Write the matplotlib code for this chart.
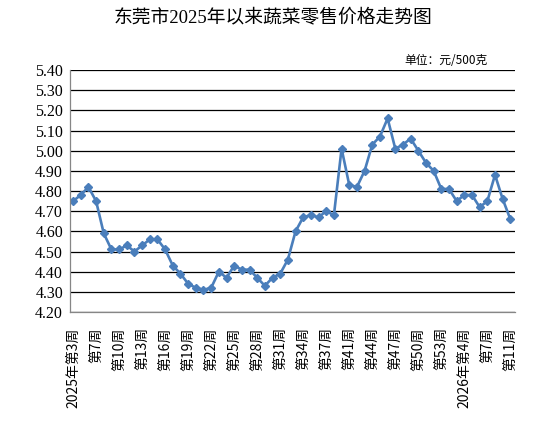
import numpy as np
import matplotlib.pyplot as plt

plt.rcParams['font.family'] = ['Liberation Serif', 'Noto Sans CJK SC']

prices = [4.75, 4.78, 4.82, 4.75, 4.59, 4.51, 4.51, 4.53, 4.50, 4.53,
          4.56, 4.56, 4.51, 4.43, 4.39, 4.34, 4.32, 4.31, 4.32, 4.40,
          4.37, 4.43, 4.41, 4.41, 4.37, 4.33, 4.37, 4.39, 4.46, 4.60,
          4.67, 4.68, 4.67, 4.70, 4.68, 5.01, 4.83, 4.82, 4.90, 5.03,
          5.07, 5.16, 5.01, 5.03, 5.06, 5.00, 4.94, 4.90, 4.81, 4.81,
          4.75, 4.78, 4.78, 4.72, 4.75, 4.88, 4.76, 4.66]
tick_labels = ['2025年第3周', '第7周', '第10周', '第13周', '第16周', '第19周',
               '第22周', '第25周', '第28周', '第31周', '第34周', '第37周',
               '第41周', '第44周', '第47周', '第50周', '第53周',
               '2026年第4周', '第7周', '第11周']

x = np.arange(len(prices))

fig = plt.figure(figsize=(5.49, 4.23), dpi=100)
ax = fig.add_axes([0.1275, 0.2624, 0.8105, 0.5721])

ax.plot(x, prices, color='#4a7ebb', lw=1.9, marker='D', ms=4.5,
        mec='#4a7ebb', mfc='#4a7ebb')

ax.set_ylim(4.2, 5.4)
ax.set_yticks(np.arange(4.2, 5.41, 0.1))
ax.set_yticklabels([f'{v:.2f}' for v in np.arange(4.2, 5.41, 0.1)], fontsize=11.5)
ax.grid(axis='y', color='black', lw=0.9)
ax.set_axisbelow(True)

ax.set_xlim(-0.4, 57.6)
ax.set_xticks(x[::3])
ax.set_xticklabels(tick_labels, rotation=90, fontsize=10, fontweight='light',
                   family=['Noto Sans CJK SC', 'DejaVu Sans'])
ax.tick_params(length=0)
ax.tick_params(axis='x', pad=11)
ax.tick_params(axis='y', pad=5)

for s in ['top', 'right']:
    ax.spines[s].set_visible(False)
for s in ['left', 'bottom']:
    ax.spines[s].set_color('#868686')
    ax.spines[s].set_linewidth(0.9)

fig.text(0.498, 0.958, '东莞市2025年以来蔬菜零售价格走势图', ha='center', va='center',
         fontsize=13.5, fontweight='light')
fig.text(0.889, 0.858, '单位：元/500克', ha='right', va='center', fontsize=8.5,
         family=['Noto Sans CJK SC', 'DejaVu Sans'])

fig.savefig('out.png', dpi=100)
